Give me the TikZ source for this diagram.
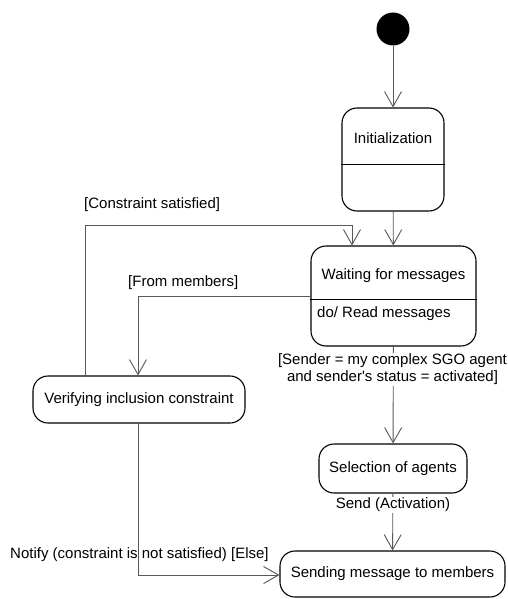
\documentclass[tikz,border=0pt]{standalone}
\usepackage{fontspec}
\setmainfont{Liberation Sans}
\usetikzlibrary{arrows.meta}
\begin{document}
\begin{tikzpicture}[x=1pt,y=-1pt,
  font=\fontsize{15pt}{17pt}\selectfont,
  state/.style={draw=black,line width=1.1pt,rounded corners=15pt,inner sep=0pt},
  divider/.style={line width=1pt},
  conn/.style={draw=black!65,line width=0.9pt,-{Straight Barb[length=15pt,width=17pt,line width=0.9pt]}},
  lbl/.style={inner sep=0pt},
  guard/.style={inner sep=1pt,fill=white,align=center}]
\useasboundingbox[fill=white] (0,0) rectangle (508,599);

% states
\node[circle,fill=black,minimum size=33pt,inner sep=0pt] (start) at (393,29) {};
\node[state,minimum width=102pt,minimum height=103pt] (init) at (393,159.5) {};
\node[lbl] (initname) at (393,138) {Initialization};
\draw[divider] (init.west |- 0,164) -- (init.east |- 0,164);

\node[state,minimum width=165pt,minimum height=100pt] (wait) at (393.5,296) {};
\node[lbl] (waitname) at (393.5,276) {Waiting for messages};
\draw[divider] (wait.west |- 0,299) -- (wait.east |- 0,299);
\node[lbl,anchor=west] (waitdo) at (317,314) {do/ Read messages};

\node[state,minimum width=212pt,minimum height=47pt] (verify) at (139,399.5) {Verifying inclusion constraint};
\node[state,minimum width=148pt,minimum height=49pt] (select) at (393,468.5) {Selection of agents};
\node[state,minimum width=225pt,minimum height=46pt] (send) at (392.5,574) {Sending message to members};

% transitions
\draw[conn] (start) -- (init);
\draw[conn] (init) -- (wait);

\coordinate (cs1) at (85,225);
\coordinate (cs2) at (352,225);
\draw[conn] (verify.north -| cs1) -- (cs1) -- (cs2) -- (wait.north -| cs2);
\node[lbl,anchor=west] (cslabel) at (84,205) {[Constraint satisfied]};

\coordinate (fm) at (138,296);
\draw[conn] (wait.west |- fm) -- (fm) -- (verify.north -| fm);
\node[lbl,anchor=west] (fmlabel) at (128,283) {[From members]};

\draw[conn] (wait) -- (select);
\node[guard] (sgo) at (392.5,369.5) {[Sender = my complex SGO agent\\ and sender\textquotesingle s status = activated]};

\draw[conn] (select) -- (send);
\node[guard] (act) at (393,505) {Send (Activation)};

\coordinate (nt) at (138,575);
\draw[conn] (verify.south -| nt) -- (nt) -- (send.west |- nt);
\node[lbl,anchor=west] (ntlabel) at (10,555) {Notify (constraint is not satisfied) [Else]};
\end{tikzpicture}
\end{document}
